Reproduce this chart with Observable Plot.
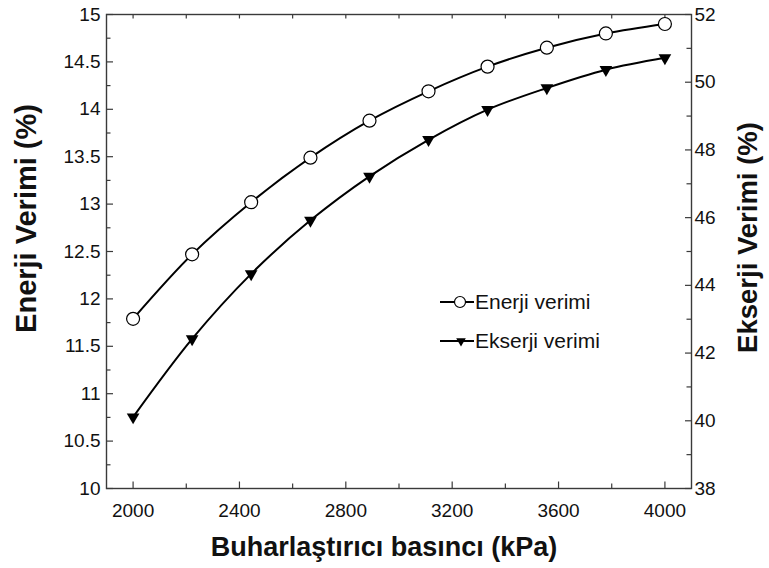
<!DOCTYPE html>
<html><head><meta charset="utf-8">
<script src="https://cdn.jsdelivr.net/npm/d3@7"></script>
<script src="https://cdn.jsdelivr.net/npm/@observablehq/plot@0.6"></script>
<style>
body{margin:0;background:#fff;}
#wrap{position:relative;width:769px;height:568px;}
</style></head><body><div id="wrap"></div>
<script>
// --- data ---
const pressure = [2000, 2222, 2444, 2667, 2889, 3111, 3333, 3556, 3778, 4000];
const enerji   = [11.79, 12.47, 13.02, 13.49, 13.88, 14.19, 14.45, 14.65, 14.80, 14.90];
const ekserji  = [40.11, 42.42, 44.34, 45.92, 47.22, 48.30, 49.19, 49.83, 50.37, 50.72];
const leftTicks  = [10, 10.5, 11, 11.5, 12, 12.5, 13, 13.5, 14, 14.5, 15];
const leftMinor  = [10.25, 10.75, 11.25, 11.75, 12.25, 12.75, 13.25, 13.75, 14.25, 14.75];
const rightTicks = [38, 40, 42, 44, 46, 48, 50, 52];
const rightMinor = [39, 41, 43, 45, 47, 49, 51];
const xTicks = [2000, 2400, 2800, 3200, 3600, 4000];
const xMinor = [2200, 2600, 3000, 3400, 3800];
const legendLabels = ["Enerji verimi", "Ekserji verimi"];
const xTitle = "Buharlaştırıcı basıncı (kPa)";
const yTitle = "Enerji Verimi (%)";
const y2Title = "Ekserji Verimi (%)";

// right axis (38..52) mapped onto left scale (10..15)
const toLeft = v => 10 + (v - 38) * 5 / 14;
const fromLeft = v => 38 + (v - 10) * 14 / 5;

const rowsE = pressure.map((p, i) => ({p, v: enerji[i]}));
const rowsX = pressure.map((p, i) => ({p, v: toLeft(ekserji[i])}));

const W = 769, H = 568, mL = 106, mR = 78, mT = 14, mB = 80;
const pw = W - mL - mR, ph = H - mT - mB;
const axisCol = "#3a3a3a";
const font = "'Liberation Sans', Arial, sans-serif";
const tickFont = 19, legendFont = 21;

const chart = Plot.plot({
  width: W, height: H,
  marginLeft: mL, marginRight: mR, marginTop: mT, marginBottom: mB,
  style: {fontFamily: font, fontSize: tickFont + "px", color: "#111", background: "#fff"},
  x: {domain: [1900, 4100]},
  y: {domain: [10, 15]},
  marks: [
    // ticks pointing inward
    Plot.tickY(leftTicks, {insetRight: pw - 7, stroke: axisCol, strokeWidth: 1.2}),
    Plot.tickY(leftMinor, {insetRight: pw - 4.5, stroke: axisCol, strokeWidth: 1.2}),
    Plot.tickY(rightTicks.map(toLeft), {insetLeft: pw - 6, stroke: axisCol, strokeWidth: 1.2}),
    Plot.tickY(rightMinor.map(toLeft), {insetLeft: pw - 4.5, stroke: axisCol, strokeWidth: 1.2}),
    Plot.tickX(xTicks, {insetTop: ph - 6.5, stroke: axisCol, strokeWidth: 1.2}),
    Plot.tickX(xMinor, {insetTop: ph - 4.5, stroke: axisCol, strokeWidth: 1.2}),
    Plot.tickX(xTicks.concat(xMinor), {insetBottom: ph - 4.5, stroke: axisCol, strokeWidth: 1.2}),
    // labels
    Plot.axisY(leftTicks, {anchor: "left", tickSize: 0, tickPadding: 6, fontSize: tickFont, label: null,
      tickFormat: d => String(d)}),
    Plot.axisY(rightTicks.map(toLeft), {anchor: "right", tickSize: 0, tickPadding: 3, fontSize: tickFont, label: null,
      tickFormat: d => String(Math.round(fromLeft(d)))}),
    Plot.axisX(xTicks, {anchor: "bottom", tickSize: 0, tickPadding: 15, fontSize: tickFont, label: null,
      tickFormat: d => String(d)}),
    Plot.frame({stroke: axisCol, strokeWidth: 1.4}),
    // series
    Plot.line(rowsE, {x: "p", y: "v", curve: "catmull-rom", stroke: "#000", strokeWidth: 2}),
    Plot.line(rowsX, {x: "p", y: "v", curve: "catmull-rom", stroke: "#000", strokeWidth: 2}),
    Plot.dot(rowsE, {x: "p", y: "v", r: 6.5, fill: "#fff", stroke: "#000", strokeWidth: 1.2}),
    Plot.dot(rowsX, {x: "p", y: "v", symbol: "triangle", r: 4.7, rotate: 180, fill: "#000", stroke: "none"}),
    // axis titles
    Plot.text([yTitle], {text: d => d, frameAnchor: "left", textAnchor: "middle", lineAnchor: "middle",
      dx: -80, dy: -33, rotate: -90, fontSize: 29, fontWeight: "bold", fill: "#111"}),
    Plot.text([y2Title], {text: d => d, frameAnchor: "right", textAnchor: "middle", lineAnchor: "middle",
      dx: 57, dy: -14, rotate: -90, fontSize: 27.5, fontWeight: "bold", fill: "#111"}),
    Plot.text([xTitle], {text: d => d, frameAnchor: "bottom", textAnchor: "middle", lineAnchor: "middle",
      dx: -15, dy: 59, fontSize: 27, fontWeight: "bold", fill: "#111"})
  ]
});
const wrap = document.getElementById("wrap");
wrap.appendChild(chart);

// legend overlay
const leg = d3.select(wrap).append("svg")
  .attr("width", W).attr("height", H)
  .style("position", "absolute").style("left", "0px").style("top", "0px")
  .style("font-family", font);
legendLabels.forEach((lab, i) => {
  const g = leg.append("g").attr("transform", `translate(440,${302 + i * 39})`);
  g.append("line").attr("x1", 0).attr("x2", 34).attr("stroke", "#000").attr("stroke-width", 2);
  if (i === 0) {
    g.append("circle").attr("cx", 20).attr("r", 5.5).attr("fill", "#fff").attr("stroke", "#000").attr("stroke-width", 1.2);
  } else {
    g.append("path").attr("d", d3.symbol(d3.symbolTriangle, 40)()).attr("transform", "translate(21,0) rotate(180)").attr("fill", "#000");
  }
  g.append("text").attr("x", 35).attr("dy", "0.35em").attr("font-size", legendFont).attr("fill", "#111").text(lab);
});
</script></body></html>
